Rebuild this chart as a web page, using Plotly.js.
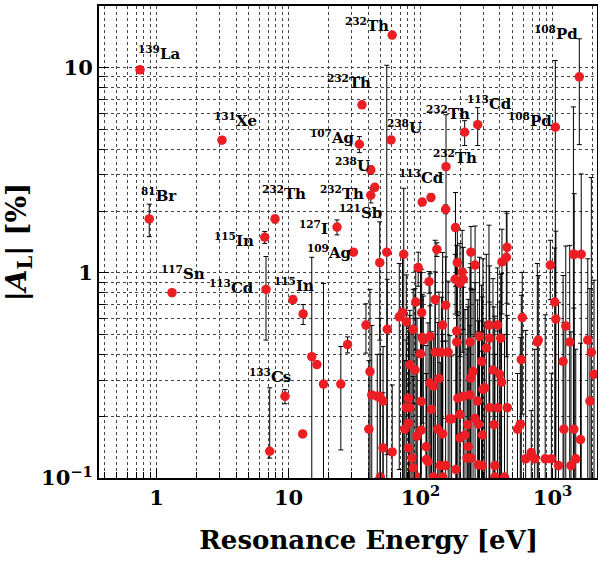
<!DOCTYPE html>
<html><head><meta charset="utf-8">
<script src="https://cdn.plot.ly/plotly-3.0.1.min.js"></script>
<style>body{margin:0;background:#fff}</style>
</head><body><div id="chart" style="width:598px;height:562px"></div>
<script>
// Resonance energies (eV)
const energy = [
 0.75,0.88,1.31,3.13,6.6,6.75,7.2,7.9,9.4,10.8,12.9,12.8,15.0,16.4,18.4,23.3,24.9,28.0,31.0,34.4,36.0,42.0,45.0,42.0,61.0,59.8,103,120,156,216,271,1050,1596,
 38.6,41.4,42.7,40.6,47,49.3,52,52,61,49.6,49.1,55.5,56,74.6,69,73,78,88,92,83,91,100,105,81,78,83,101,121,76,81,101,94,135,147,81,86,88,94,110,111,114,125,141,155,147,167,185,118,125,138,129,144,162,
 155,184,96,116,133,190,207,183,211,199,241,259,129,155,102,118,188,103,147,188,237,250,240,192,211,237,271,199,259,172,228,275,199,217,230,225,241,275,
 452,447,414,962,1440,1460,1650,1040,1060,590,1260,330,384,334,280,780,1850,767,1350,580,1202,1968,2063,315,290,354,398,411,306,297,334,384,454,1920,360,543,570,1220,1450,1630,294,690,626,733,880,980,1110,1380,1500,365,294,365,433,405
];
// |A_L| (%)
const asym = [
 9.75,1.83,0.80,4.43,1.49,0.83,0.135,1.83,0.25,0.74,0.63,0.164,0.39,0.357,0.287,1.67,0.287,0.447,1.26,4.23,6.58,3.17,2.61,2.39,14.4,4.44,2.21,2.33,3.29,4.84,5.27,5.12,9.01,
 0.556,0.33,0.254,0.173,0.25,0.25,0.237,0.14,0.134,0.101,1.12,1.26,0.53,1.23,0.61,0.64,0.577,0.53,0.72,0.356,0.336,0.403,0.47,0.245,0.22,0.22,0.236,0.216,0.173,0.185,0.171,0.16,0.173,0.164,0.14,0.125,0.112,0.101,0.142,0.123,0.12,0.101,0.115,0.115,0.101,0.194,0.11,0.29,0.28,0.305,0.41,0.41,0.41,
 2.04,1.66,1.06,0.905,1.30,1.12,1.01,0.93,0.93,0.89,1.26,1.09,0.74,0.695,0.64,0.49,0.52,0.485,0.556,0.46,0.46,0.33,0.307,0.245,0.25,0.254,0.237,0.204,0.195,0.194,0.182,0.183,0.157,0.162,0.142,0.125,0.125,0.116,
 1.33,1.19,1.13,1.09,1.23,1.23,1.23,0.72,0.595,0.605,0.55,0.556,0.556,0.48,0.49,0.47,0.47,0.46,0.46,0.377,0.37,0.41,0.32,0.43,0.37,0.336,0.32,0.293,0.275,0.27,0.22,0.22,0.22,0.237,0.182,0.173,0.183,0.173,0.173,0.154,0.162,0.133,0.124,0.124,0.124,0.124,0.115,0.115,0.124,0.115,0.115,0.101,0.101,0.48
];
// upper uncertainty (%)
const errPlus = [
 0.2,0.33,0.03,0.15,0.1,0.37,0.14,0.08,0.02,0.03,0.07,0,0.8,0,0.6,0.14,0.15,0.04,0.02,0.38,0.25,0.15,0.1,0.2,0,0.1,0.08,0.1,2.6,0.67,1.11,5.7,4.8,
 0.15,0.5,0.3,0.2,0.15,0.35,0.2,0.12,0.15,0.3,0.65,9.0,0.4,1.35,0.5,0.6,0.4,0.3,0.3,0.3,0.5,0.6,0.3,0.3,0.25,0.4,0.5,0.3,0.2,0.35,0.3,0.25,0.4,0.3,0.15,0.4,0.2,0.5,0.3,0.2,0.45,0.3,0.25,0.35,0.4,0.3,0.4,0.4,0.2,0.5,0.6,0.35,0.5,
 0.1,0.8,0.2,0.11,0.1,0.5,0.6,0.3,0.4,0.5,0.42,0.6,0.7,0.5,0.4,0.5,0.6,0.3,0.7,0.9,0.6,0.5,0.8,0.4,0.6,0.3,0.5,0.3,0.7,0.2,0.5,0.4,0.3,0.5,0.6,0.3,0.7,0.4,
 0.62,0.8,0.5,0.35,5.2,1.2,1.8,0.6,1.0,0.4,0.8,1.15,0.5,0.6,0.7,0.5,0.7,0.65,0.9,0.4,0.6,2.5,0.6,0.8,0.5,0.6,0.4,0.7,0.3,0.9,0.5,0.3,0.4,0.6,0.5,0.15,0.3,0.4,0.5,0.3,0.6,0.08,0.4,0.3,0.5,0.2,0.6,0.4,0.3,0.5,0.3,0.3,0.4,0.5
];
// lower uncertainty (%)
const errMinus = errPlus.slice();
errMinus[5] = 0.36; errMinus[6] = 0.01; errMinus[30] = 1.1;

// isotope labels
const labelText = ['<sup>139</sup>La','<sup>81</sup>Br','<sup>131</sup>Xe','<sup>232</sup>Th','<sup>115</sup>In','<sup>117</sup>Sn','<sup>113</sup>Cd','<sup>115</sup>In','<sup>133</sup>Cs','<sup>127</sup>I','<sup>109</sup>Ag','<sup>121</sup>Sb','<sup>232</sup>Th','<sup>238</sup>U','<sup>107</sup>Ag','<sup>232</sup>Th','<sup>232</sup>Th','<sup>238</sup>U','<sup>113</sup>Cd','<sup>232</sup>Th','<sup>232</sup>Th','<sup>113</sup>Cd','<sup>108</sup>Pd','<sup>108</sup>Pd'];
const labelLogE = [0.019,0.019,0.595,0.966,0.589,0.20,0.566,1.042,0.862,1.186,1.307,1.542,1.405,1.481,1.33,1.458,1.595,1.875,2.011,2.261,2.208,2.519,2.83,3.027];
const labelLogA = [1.072,0.379,0.745,0.389,0.16,0.0,-0.07,-0.06,-0.504,0.218,0.101,0.296,0.389,0.525,0.662,0.93,1.208,0.711,0.467,0.564,0.779,0.828,0.745,1.17];

const xMajor = [1,10,100,1000];
const xMajorText = ['1','10','10<sup>2</sup>','10<sup>3</sup>'];
const xMinor = [0.4,0.5,0.6,0.7,0.8,0.9,2,3,4,5,6,7,8,9,20,30,40,50,60,70,80,90,200,300,400,500,600,700,800,900,2000];
const yMajor = [0.1,1,10];
const yMajorText = ['10<sup>\u22121</sup>','1','10'];
const yMinor = [0.2,0.3,0.4,0.5,0.6,0.7,0.8,0.9,2,3,4,5,6,7,8,9,20];

const serif = 'DejaVu Serif, Liberation Serif, serif';
const trace = {
  x: energy, y: asym, type:'scatter', mode:'markers',
  marker:{color:'rgb(236,30,36)', size:9.5},
  error_y:{type:'data', symmetric:false, array:errPlus, arrayminus:errMinus, color:'#000', thickness:1, width:2.5},
  hoverinfo:'x+y'
};
const annotations = labelText.map((t,i)=>({
  x: labelLogE[i], y: labelLogA[i], xref:'x', yref:'y', text:t, showarrow:false,
  font:{family:serif, size:15, color:'#000', weight:'bold'}
}));
const gridCommon = {gridcolor:'#444', griddash:'dot', gridwidth:1};
const layout = {
  width:598, height:562, margin:{l:99,r:1,t:6,b:84},
  paper_bgcolor:'#fff', plot_bgcolor:'#fff', showlegend:false,
  font:{family:serif, color:'#000'},
  xaxis:Object.assign({type:'log', range:[-0.436,3.337], tickmode:'array', tickvals:xMajor, ticktext:xMajorText,
    ticks:'inside', ticklen:10, tickwidth:1, tickcolor:'#000', showgrid:true,
    showline:true, linewidth:2, linecolor:'#000', mirror:true, zeroline:false,
    tickfont:{family:serif, size:21, weight:'bold'},
    minor:Object.assign({tickmode:'array', tickvals:xMinor, ticks:'inside', ticklen:6, tickcolor:'#000', showgrid:true}, gridCommon),
    title:{text:'&nbsp;&nbsp;&nbsp;&nbsp;&nbsp;<b>Resonance Energy [eV]</b>', font:{family:serif, size:26}, standoff:22}}, gridCommon),
  yaxis:Object.assign({type:'log', range:[-1,1.3], tickmode:'array', tickvals:yMajor, ticktext:yMajorText,
    ticks:'inside', ticklen:10, tickwidth:1, tickcolor:'#000', showgrid:true,
    showline:true, linewidth:2, linecolor:'#000', mirror:true, zeroline:false,
    tickfont:{family:serif, size:21, weight:'bold'},
    minor:Object.assign({tickmode:'array', tickvals:yMinor, ticks:'inside', ticklen:6, tickcolor:'#000', showgrid:true}, gridCommon),
    title:{text:'<b>|<i>A</i><sub>L</sub>| [%]</b>', font:{family:serif, size:28}, standoff:10}}, gridCommon),
  annotations: annotations
};
Plotly.newPlot('chart',[trace],layout,{displayModeBar:false, staticPlot:true});
</script></body></html>
